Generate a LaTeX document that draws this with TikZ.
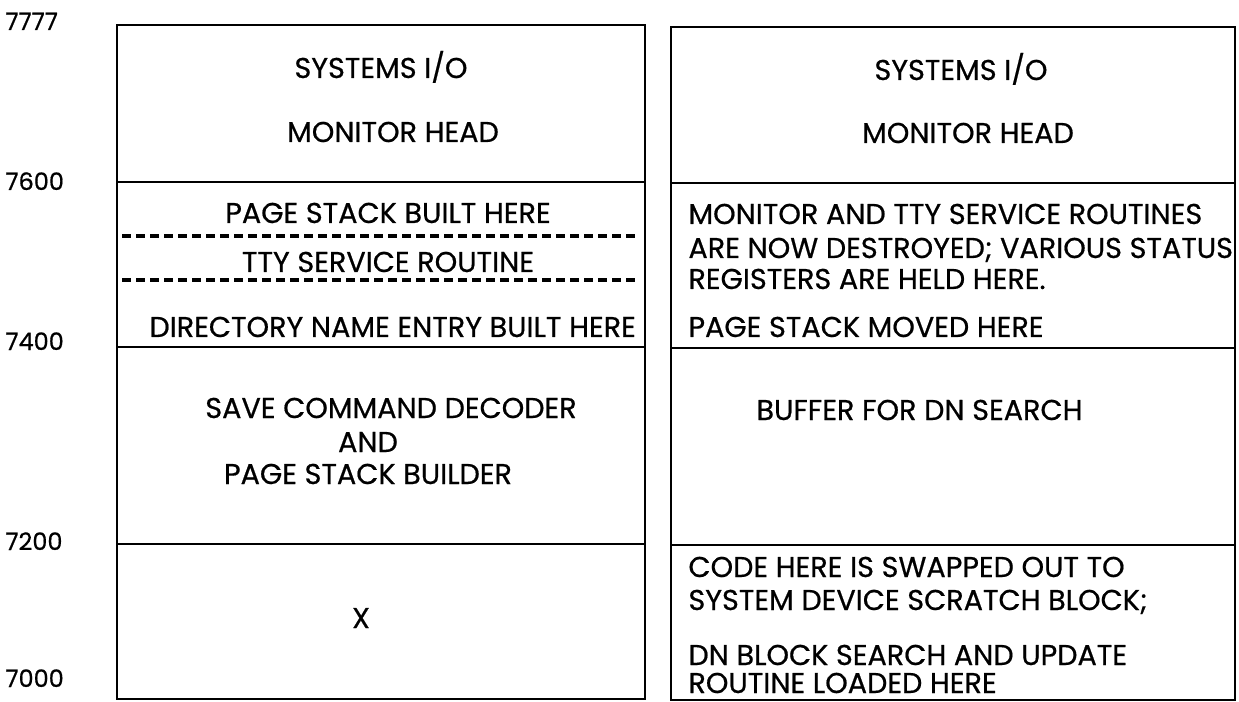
\documentclass[tikz,border=0pt]{standalone}
\usepackage{fontspec}
\setmainfont{Poppins}[FakeBold=0.6]
\tikzset{every picture/.style={line width=2.2pt}}
\tikzset{memtext/.style={inner sep=0.75pt,font=\fontsize{21.5}{25}\selectfont}}
\tikzset{addrtext/.style={inner sep=0.75pt,font=\fontsize{18}{21}\selectfont}}

\begin{document}
\begin{tikzpicture}[x=0.75pt,y=0.75pt,yscale=-1,xscale=1]
		\path[use as bounding box] (0,0) rectangle (1239,702); %set diagram to the size of the page
		
		%Shape: Rectangle [id:left map]
		\draw   (117,25) rectangle (645,699) ;
		%Shape: Rectangle [id:right map]
		\draw   (671,27) rectangle (1235,700) ;
		%Straight Lines [id:left 7600]
		\draw    (117,182) -- (645,182) ;
		%Straight Lines [id:left 7400]
		\draw    (117,347) -- (645,347) ;
		%Straight Lines [id:left 7200]
		\draw    (117,544) -- (645,544) ;
		%Straight Lines [id:right 7600]
		\draw    (671,183) -- (1235,183) ;
		%Straight Lines [id:right 7400]
		\draw    (671,348) -- (1235,348) ;
		%Straight Lines [id:right 7200]
		\draw    (671,545) -- (1235,545) ;
		%Straight Lines [id:dashed upper]
		\draw  [line width=2.4pt,dash pattern={on 6.5pt off 4pt}]  (122,236) -- (637,236) ;
		%Straight Lines [id:dashed lower]
		\draw  [line width=2.4pt,dash pattern={on 6.5pt off 4pt}]  (122,280) -- (637,280) ;
		
		% Text Node
		\draw (3,30) node [anchor=base west][addrtext] (a7777) {7777};
		% Text Node
		\draw (3,190) node [anchor=base west][addrtext] (a7600) {7600};
		% Text Node
		\draw (3,350) node [anchor=base west][addrtext] (a7400) {7400};
		% Text Node
		\draw (3,550) node [anchor=base west][addrtext] (a7200) {7200};
		% Text Node
		\draw (3,687) node [anchor=base west][addrtext] (a7000) {7000};
		
		% Text Node
		\draw (381,78) node [anchor=base][memtext] (lsysio) {SYSTEMS I/O};
		% Text Node
		\draw (393,142) node [anchor=base][memtext] (lmonhead) {MONITOR HEAD};
		% Text Node
		\draw (388,223) node [anchor=base][memtext] (lstack) {PAGE STACK BUILT HERE};
		% Text Node
		\draw (388,272) node [anchor=base][memtext] (ltty) {TTY SERVICE ROUTINE};
		% Text Node
		\draw (147,337) node [anchor=base west][memtext] (ldirname) {DIRECTORY NAME ENTRY BUILT HERE};
		% Text Node
		\draw (391,418) node [anchor=base][memtext] (lsave) {SAVE COMMAND DECODER};
		% Text Node
		\draw (368,452) node [anchor=base][memtext] (land) {AND};
		% Text Node
		\draw (368,484) node [anchor=base][memtext] (lbuilder) {PAGE STACK BUILDER};
		% Text Node
		\draw (361,628) node [anchor=base][memtext] (lx) {X};
		
		% Text Node
		\draw (961,80) node [anchor=base][memtext] (rsysio) {SYSTEMS I/O};
		% Text Node
		\draw (968,143) node [anchor=base][memtext] (rmonhead) {MONITOR HEAD};
		% Text Node
		\draw (686,224) node [anchor=base west][memtext] (rdestroyed) {MONITOR AND TTY SERVICE ROUTINES};
		% Text Node
		\draw (686,258) node [anchor=base west][memtext] (rstatus) {ARE NOW DESTROYED; VARIOUS STATUS};
		% Text Node
		\draw (686,289) node [anchor=base west][memtext] (rheld) {REGISTERS ARE HELD HERE.};
		% Text Node
		\draw (686,337) node [anchor=base west][memtext] (rmoved) {PAGE STACK MOVED HERE};
		% Text Node
		\draw (754,420) node [anchor=base west][memtext] (rbuffer) {BUFFER FOR DN SEARCH};
		% Text Node
		\draw (686,577) node [anchor=base west][memtext] (rswapped) {CODE HERE IS SWAPPED OUT TO};
		% Text Node
		\draw (686,610) node [anchor=base west][memtext] (rscratch) {SYSTEM DEVICE SCRATCH BLOCK;};
		% Text Node
		\draw (686,665) node [anchor=base west][memtext] (rsearch) {DN BLOCK SEARCH AND UPDATE};
		% Text Node
		\draw (686,693) node [anchor=base west][memtext] (rloaded) {ROUTINE LOADED HERE};
		
	\end{tikzpicture}
\end{document}
